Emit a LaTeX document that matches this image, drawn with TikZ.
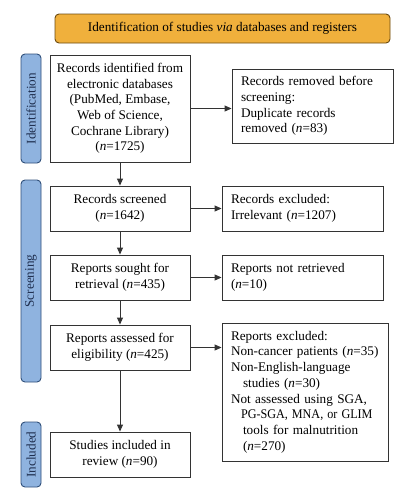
\documentclass[tikz,border=0pt]{standalone}
\usepackage{fontspec}
\setmainfont{Liberation Serif}
\usetikzlibrary{arrows.meta}
\definecolor{bannerfill}{HTML}{F0B03C}
\definecolor{bannerdraw}{HTML}{6B4A10}
\definecolor{labfill}{HTML}{8FB3DF}
\definecolor{labdraw}{HTML}{2F4F7A}
\definecolor{labtext}{HTML}{1F2F4F}
\definecolor{linecol}{HTML}{333333}
\begin{document}
\begin{tikzpicture}[x=1pt,y=-1pt,
  every node/.style={font=\fontsize{13.2}{15.7}\selectfont},
  lbox/.style={draw=linecol, line width=0.9pt, fill=white, minimum width=140pt, align=center, inner sep=0pt},
  rbox/.style={draw=linecol, line width=0.9pt, fill=white, align=left, inner xsep=9pt, inner ysep=0pt},
  stage/.style={draw=labdraw, line width=0.9pt, fill=labfill, rounded corners=4pt, rotate=90, minimum height=20pt, inner sep=0pt, text=labtext},
  conn/.style={draw=linecol, line width=0.9pt, -{Triangle[length=7pt,width=6pt]}}
]
\useasboundingbox (0,0) rectangle (419,499);
\node[draw=bannerdraw, line width=0.9pt, fill=bannerfill, rounded corners=4pt, minimum width=335pt, minimum height=29pt, inner sep=0pt] (banner) at (222.5,28.5) {Identification of studies \textit{via} databases and registers};

\node[stage, minimum width=109pt] (idlab) at (31,108.5) {Identification};
\node[stage, minimum width=202pt] (scrlab) at (31,281) {Screening};
\node[stage, minimum width=65pt] (inclab) at (31,454.5) {Included};

\node[lbox, minimum height=107pt] (b1) at (120,108.5) {Records identified from\\electronic databases\\(PubMed, Embase,\\Web of Science,\\Cochrane Library)\\(\textit{n}=1725)};
\node[lbox, minimum height=45pt] (b2) at (120,208.5) {Records screened\\(\textit{n}=1642)};
\node[lbox, minimum height=45pt] (b3) at (120,277.5) {Reports sought for\\retrieval (\textit{n}=435)};
\node[lbox, minimum height=45pt] (b4) at (120,347.5) {Reports assessed for\\eligibility (\textit{n}=425)};
\node[lbox, minimum height=45pt] (b5) at (120,454.5) {Studies included in\\review (\textit{n}=90)};

\node[rbox, text width=143pt, minimum height=74pt] (r1) at (312.5,106) {Records removed before\\screening:\\Duplicate records\\removed (\textit{n}=83)};
\node[rbox, text width=143pt, minimum height=45pt] (r2) at (302.5,208.5) {Records excluded:\\Irrelevant (\textit{n}=1207)};
\node[rbox, text width=143pt, minimum height=45pt] (r3) at (302.5,277.5) {Reports not retrieved\\(\textit{n}=10)};
\node[rbox, text width=148pt, minimum height=138pt] (r4) at (305,392) {Reports excluded:\\Non-cancer patients (\textit{n}=35)\\Non-English-language\\\hspace*{12pt}studies (\textit{n}=30)\\Not assessed using SGA,\\\hspace*{10pt}\scalebox{0.92}[1]{PG-SGA, MNA, or GLIM}\\\hspace*{12pt}tools for malnutrition\\\hspace*{12pt}(\textit{n}=270)};

\draw[conn] (b1) -- (b2);
\draw[conn] (b2) -- (b3);
\draw[conn] (b3) -- (b4);
\draw[conn] (b4) -- (b5);
\draw[conn] (b1.east) -- (b1.east -| r1.west);
\draw[conn] (b2.east) -- (b2.east -| r2.west);
\draw[conn] (b3.east) -- (b3.east -| r3.west);
\draw[conn] (b4.east) -- (b4.east -| r4.west);
\end{tikzpicture}
\end{document}
